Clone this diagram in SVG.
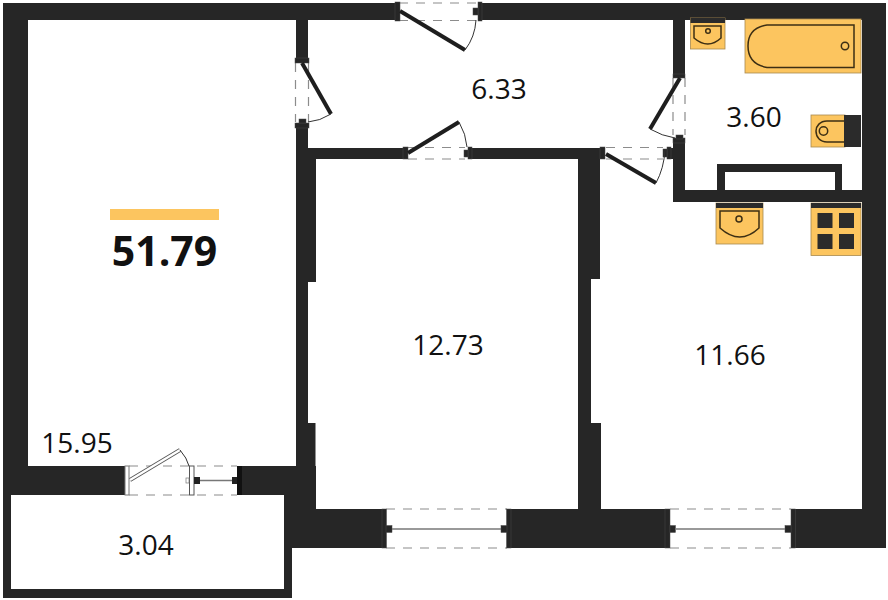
<svg xmlns="http://www.w3.org/2000/svg" width="888" height="600" viewBox="0 0 888 600">
<style>
.w{fill:#262626}
.j{fill:#262626;stroke:#4a4a4a;stroke-width:.5}
.leaf{stroke:#1e1e1e;stroke-width:4;fill:none}
.arc{stroke:#333;stroke-width:1;fill:none}
.dash{stroke:#8c8c8c;stroke-width:1.2;stroke-dasharray:9 8;fill:none}
.glass{stroke:#777;stroke-width:1.5;fill:none}
.fx{fill:#fcc55f;stroke:#a9894f;stroke-width:.8}
.ln{fill:none;stroke:#3d2f14;stroke-width:1.5}
.t{font-family:"Open Sans","Noto Sans",sans-serif;font-size:28px;fill:#111;text-anchor:middle}
.b{font-weight:700;font-size:41px}
</style>
<rect width="888" height="600" fill="#fff"/>
<g id="walls">
<rect class="w" x="3" y="3" width="392" height="17"/>
<rect class="w" x="3" y="3" width="25" height="492"/>
<rect class="w" x="3" y="466" width="122" height="29"/>
<rect class="w" x="3" y="495" width="8" height="103"/>
<rect class="w" x="3" y="589" width="289" height="9"/>
<rect class="w" x="284" y="495" width="8" height="103"/>
<rect class="w" x="240" y="466" width="76" height="29"/>
<rect class="w" x="284" y="495" width="32" height="14"/>
<rect class="w" x="481" y="3" width="405" height="17"/>
<rect class="w" x="862" y="3" width="24" height="545"/>
<rect class="w" x="296" y="20" width="12" height="40"/>
<rect class="w" x="296" y="125" width="12" height="34"/>
<path class="w" d="M296 148H403V159H316V282H308V423H315.500V509H296Z"/>
<rect class="w" x="471" y="148" width="130" height="11"/>
<path class="w" d="M578 159H600V279H591V423H601V509H578Z"/>
<rect class="w" x="292" y="509" width="90" height="39"/>
<rect class="w" x="511" y="509" width="154" height="39"/>
<rect class="w" x="795" y="509" width="91" height="39"/>
<rect class="w" x="673" y="20" width="12" height="54"/>
<rect class="w" x="673" y="140" width="12" height="62"/>
<rect class="w" x="667" y="148" width="8" height="11"/>
<rect class="w" x="673" y="190" width="189" height="12"/>
<path class="w" d="M717 164H842V190H835V172H725V190H717Z"/>
</g>
<g id="door-entrance">
<path class="dash" d="M399 3H478M399 20.500H478"/>
<rect class="j" x="395" y="2" width="5" height="19"/><rect class="j" x="478" y="2" width="4" height="19"/><rect class="j" x="473" y="8" width="5" height="7"/>
<path class="leaf" d="M400 11L465 50"/><path class="arc" d="M465 50Q475 37 476 20"/>
</g>
<g id="door-room-1">
<path class="dash" d="M295.500 63V122M308.500 63V122"/>
<rect class="j" x="295" y="58" width="14" height="5"/><rect class="j" x="295" y="123" width="14" height="5"/><rect class="j" x="299" y="119" width="7" height="4"/>
<path class="leaf" d="M302 63L331 114"/><path class="arc" d="M331 114Q320 121 308 122"/>
</g>
<g id="door-room-2">
<path class="dash" d="M408 147.500H465M408 159H465"/>
<rect class="j" x="403" y="147" width="5" height="12"/><rect class="j" x="468" y="147" width="4" height="12"/><rect class="j" x="464" y="150" width="4" height="7"/>
<path class="leaf" d="M408 153L459 122"/><path class="arc" d="M459 122Q466 134 467 147"/>
</g>
<g id="door-room-3">
<path class="dash" d="M606 147.500H663M606 159H663"/>
<rect class="j" x="600" y="147" width="5" height="12"/><rect class="j" x="667" y="147" width="4" height="12"/><rect class="j" x="663" y="149" width="4" height="8"/>
<path class="leaf" d="M606 154L656 183"/><path class="arc" d="M656 183Q664 168 665 150"/>
</g>
<g id="door-bath">
<path class="dash" d="M673 78V135M685 78V135"/>
<rect class="j" x="673" y="74" width="12" height="4"/><rect class="j" x="673" y="138" width="12" height="5"/><rect class="j" x="676" y="135" width="7" height="4"/>
<path class="leaf" d="M680 78L650 129"/><path class="arc" d="M650 129Q662 136 675 138"/>
</g>
<g id="door-balcony">
<path class="dash" d="M129 466H237M129 495H237"/>
<rect x="125" y="466" width="4" height="29" fill="#fff" stroke="#777"/>
<rect x="189.500" y="466" width="4.500" height="29" fill="#fff" stroke="#555"/>
<path d="M130 480L180 450" stroke="#555" stroke-width="4"/><path d="M130 480L180 450" stroke="#fff" stroke-width="2.400"/>
<path class="arc" d="M180 450Q187 458 189 466"/>
<rect x="186" y="478" width="3" height="5" fill="#fff" stroke="#777" stroke-width=".7"/>
<rect x="194" y="477" width="6" height="7" fill="#222"/><rect x="232" y="477" width="5" height="7" fill="#222"/>
<path class="glass" d="M200 480.500H232"/>
<rect x="237" y="466" width="5" height="29" fill="#111"/>
</g>
<g id="window-room-2">
<path class="dash" d="M386 509H507M386 548H507"/>
<rect class="j" x="382" y="509" width="4.500" height="39"/><rect class="j" x="506.500" y="509" width="4.500" height="39"/>
<rect class="j" x="386" y="525.500" width="6" height="7"/><rect class="j" x="501" y="525.500" width="6" height="7"/>
<path class="glass" d="M392 529H501"/>
</g>
<g id="window-room-3">
<path class="dash" d="M670 509H791M670 548H791"/>
<rect class="j" x="665" y="509" width="5" height="39"/><rect class="j" x="791" y="509" width="4.500" height="39"/>
<rect class="j" x="670" y="525.500" width="5.500" height="7"/><rect class="j" x="785" y="525.500" width="6" height="7"/>
<path class="glass" d="M675 529H785"/>
</g>
<g id="sink-bath">
<rect class="fx" x="690.500" y="18" width="34.500" height="31"/><rect x="690.500" y="18" width="34.500" height="5" fill="#2b2b2b"/>
<path class="ln" d="M694 26H721V38Q708 50 694 38Z"/><circle class="ln" cx="708" cy="31" r="2.300" stroke-width="1"/>
</g>
<g id="bathtub">
<rect class="fx" x="745" y="19" width="116" height="54"/>
<path class="ln" d="M854 25H767Q748 28 748 46Q748 64 767 67.500H854Z"/><circle class="ln" cx="845" cy="46" r="3.700" stroke-width="1"/>
</g>
<g id="toilet">
<rect class="fx" x="811" y="115" width="34" height="32"/><rect x="844" y="115" width="17" height="32" fill="#2b2b2b"/>
<path class="ln" d="M844 121H827C820 121 816 126 816 131C816 137 820 142 827 142H844"/><circle class="ln" cx="823.500" cy="131" r="4.200" stroke-width="1"/>
</g>
<g id="sink-kitchen">
<rect class="fx" x="716" y="203" width="47" height="41"/><rect x="716" y="203" width="47" height="5" fill="#2b2b2b"/>
<path class="ln" d="M720 211H759V228Q740 246 720 228Z"/><circle class="ln" cx="739" cy="219" r="3" stroke-width="1"/>
</g>
<g id="stove">
<rect class="fx" x="811" y="203" width="50" height="52.500"/><rect x="811" y="203" width="50" height="5" fill="#2b2b2b"/>
<rect x="817.500" y="213" width="15" height="15" fill="#2b2b2b"/><rect x="839" y="213" width="15" height="15" fill="#2b2b2b"/>
<rect x="817.500" y="234" width="15" height="15" fill="#2b2b2b"/><rect x="839" y="234" width="15" height="15" fill="#2b2b2b"/>
</g>
<g id="labels">
<rect x="110" y="209" width="109" height="11" fill="#fcc55f"/>
<text class="t b" x="164.500" y="266">51.79</text>
<text class="t" x="499" y="99">6.33</text>
<text class="t" x="754" y="127">3.60</text>
<text class="t" x="448" y="355">12.73</text>
<text class="t" x="730" y="365">11.66</text>
<text class="t" x="77" y="453">15.95</text>
<text class="t" x="146" y="555">3.04</text>
</g>
</svg>
